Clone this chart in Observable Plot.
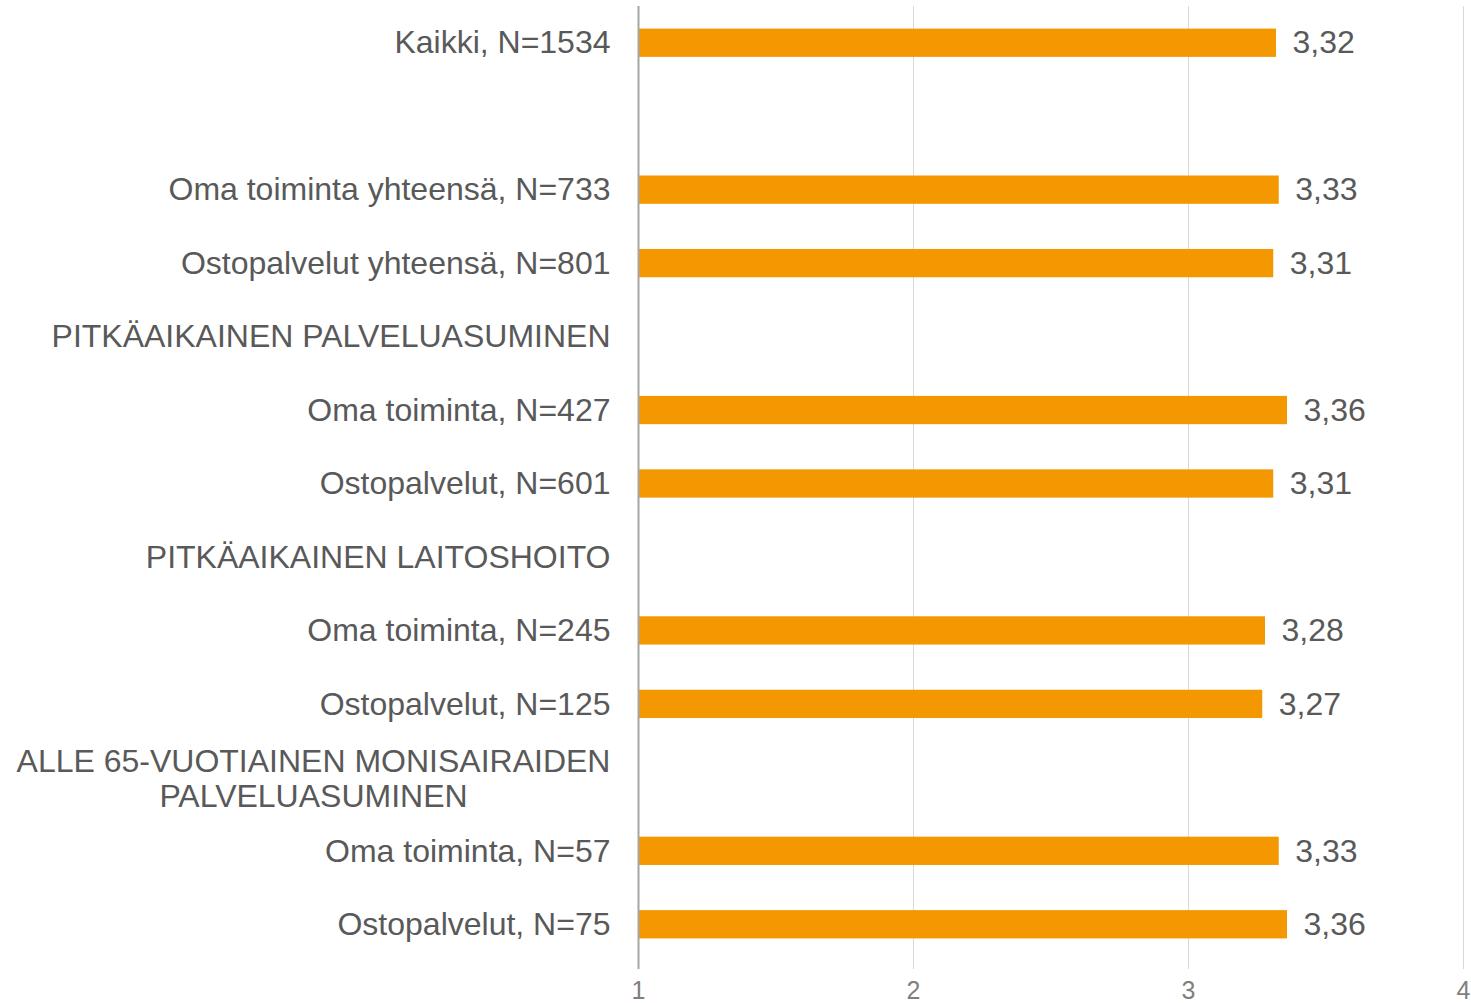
<!DOCTYPE html>
<html>
<head>
<meta charset="utf-8">
<script src="https://cdn.jsdelivr.net/npm/d3@7"></script>
<script src="https://cdn.jsdelivr.net/npm/@observablehq/plot@0.6"></script>
<style>
  html, body { margin: 0; padding: 0; background: #fff; }
  #chart svg { display: block; }
</style>
</head>
<body>
<div id="chart"></div>
<script>
const labels = [
  "Kaikki, N=1534",
  "",
  "Oma toiminta yhteensä, N=733",
  "Ostopalvelut yhteensä, N=801",
  "PITKÄAIKAINEN PALVELUASUMINEN",
  "Oma toiminta, N=427",
  "Ostopalvelut, N=601",
  "PITKÄAIKAINEN LAITOSHOITO",
  "Oma toiminta, N=245",
  "Ostopalvelut, N=125",
  "ALLE 65-VUOTIAINEN MONISAIRAIDEN\nPALVELUASUMINEN",
  "Oma toiminta, N=57",
  "Ostopalvelut, N=75"
];
const values = [3.32, null, 3.33, 3.31, null, 3.36, 3.31, null, 3.28, 3.27, null, 3.33, 3.36];
const xTicks = [1, 2, 3, 4];

const rows = labels.map((label, i) => ({i, label, value: values[i]}));
const barRows = rows.filter(d => d.value != null);
const multiRows = rows.filter(d => d.label.includes("\n"));
const fmt = v => v.toFixed(2).replace(".", ",");

const chart = Plot.plot({
  width: 1471,
  height: 1003,
  marginLeft: 638,
  marginRight: 8,
  marginTop: 6,
  marginBottom: 42,
  style: {fontFamily: "'Liberation Sans', Arial, sans-serif", background: "#fff"},
  x: {domain: [1, 4], ticks: xTicks, label: null},
  y: {domain: rows.map(d => d.i), paddingInner: 0.615, paddingOuter: 0.3075, align: 0.5, round: false, label: null},
  marks: [
    Plot.gridX(xTicks, {stroke: "#d9d9d9", strokeOpacity: 1, strokeWidth: 1, insetBottom: -8}),
    Plot.axisX(xTicks, {tickSize: 0, tickPadding: 20, fontSize: 25, fill: "#7f7f7f", label: null, tickFormat: d => String(d)}),
    Plot.barX(barRows, {y: "i", x1: 1, x2: "value", fill: "#F39800"}),
    Plot.ruleX([1], {stroke: "#a6a6a6", strokeWidth: 2, insetBottom: -8}),
    Plot.text(barRows, {y: "i", x: "value", text: d => fmt(d.value), textAnchor: "start", dx: 16, fontSize: 32, fill: "#595959"}),
    Plot.axisY({tickSize: 0, tickPadding: 28, fontSize: 32, fill: "#595959", label: null,
      tickFormat: i => labels[i].includes("\n") ? "" : labels[i]}),
    Plot.text(multiRows, {y: "i", x: 1, text: "label", textAnchor: "middle", dx: -325, fontSize: 32, fill: "#595959", lineHeight: 1.1})
  ]
});
document.getElementById("chart").appendChild(chart);
</script>
</body>
</html>
